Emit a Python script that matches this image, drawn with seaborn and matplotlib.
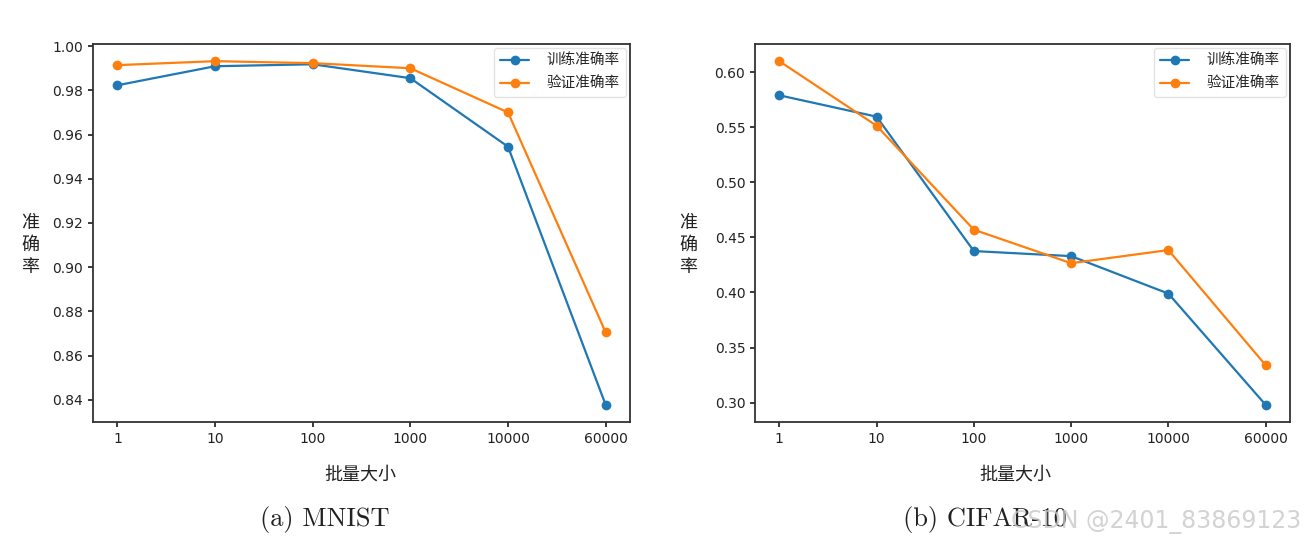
import matplotlib
matplotlib.use("Agg")
import matplotlib.pyplot as plt
import seaborn as sns
import pandas as pd

# ---- data ----
batch_sizes = ["1", "10", "100", "1000", "10000", "60000"]
series_names = ["训练准确率", "验证准确率"]
mnist_train = [0.9823, 0.9909, 0.9918, 0.9855, 0.9545, 0.8377]
mnist_val = [0.9914, 0.9932, 0.9923, 0.9900, 0.9700, 0.8705]
cifar_train = [0.579, 0.5596, 0.4376, 0.4330, 0.3990, 0.2980]
cifar_val = [0.610, 0.5514, 0.4570, 0.4266, 0.4385, 0.3340]
ylabel_text = "准\n确\n率"
xlabel_text = "批量大小"
captions = ["(a) MNIST", "(b) CIFAR-10"]
watermark = "CSDN @2401_83869123"

sns.set_theme(style="ticks")
plt.rcParams["font.family"] = ["DejaVu Sans", "Noto Sans CJK SC"]
plt.rcParams["axes.edgecolor"] = "#333333"

fig = plt.figure(figsize=(13.08, 5.49), dpi=100)
ax1 = fig.add_axes([0.0711, 0.2313, 0.4106, 0.6886])
ax2 = fig.add_axes([0.5772, 0.2313, 0.4090, 0.6886])

colors = ["#1f77b4", "#ff7f0e"]
panels = [(ax1, mnist_train, mnist_val, [0.84, 0.86, 0.88, 0.90, 0.92, 0.94, 0.96, 0.98, 1.00]),
          (ax2, cifar_train, cifar_val, [0.30, 0.35, 0.40, 0.45, 0.50, 0.55, 0.60])]

for ax, tr, va, yt in panels:
    df = pd.DataFrame({
        "batch": batch_sizes * 2,
        "acc": tr + va,
        "series": [series_names[0]] * len(batch_sizes) + [series_names[1]] * len(batch_sizes),
    })
    for name, col in zip(series_names, colors):
        sub = df[df["series"] == name]
        sns.lineplot(data=sub, x="batch", y="acc", ax=ax, color=col, marker="o",
                     markersize=7, markeredgewidth=0, linewidth=1.6, label=name, sort=False)
    ax.set_yticks(yt)
    ax.set_yticklabels(["{:.2f}".format(v) for v in yt])
    ax.tick_params(axis="both", labelsize=10, colors="#222222", length=3.5)
    for s in ax.spines.values():
        s.set_visible(True)
        s.set_linewidth(1.3)
    ax.set_ylabel(ylabel_text, rotation=0, fontsize=13, family=["Noto Sans CJK SC"],
                  linespacing=1.3, va="center", ha="center", color="#222222")
    ax.set_xlabel(xlabel_text, fontsize=13, family=["Noto Sans CJK SC"], color="#222222")
    leg = ax.legend(loc="upper right", handletextpad=1.2, labelspacing=0.6,
                    prop={"family": ["Noto Sans CJK SC"], "size": 10.5},
                    frameon=True, borderaxespad=0.3, handlelength=2.0)
    leg.get_frame().set_edgecolor("#dddddd")

ax1.yaxis.set_label_coords(-0.117, 0.468)
ax2.yaxis.set_label_coords(-0.125, 0.468)
ax1.xaxis.set_label_coords(0.497, -0.114)
ax2.xaxis.set_label_coords(0.486, -0.114)

fig.text(0.2485, 0.053, captions[0], family="cmr10",
         ha="center", va="center", fontsize=19, color="#222222")
fig.text(0.753, 0.053, captions[1], family="cmr10",
         ha="center", va="center", fontsize=19, color="#222222")
fig.text(0.995, 0.05, watermark, ha="right", va="center", fontsize=17,
         color="#c8c8c8", alpha=0.8)

fig.savefig("out.png", dpi=100, facecolor="white")
